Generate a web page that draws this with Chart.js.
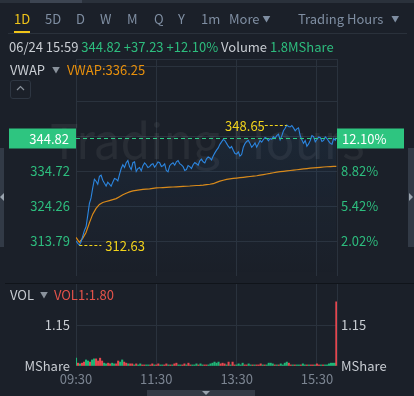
<!DOCTYPE html>
<html><head><meta charset="utf-8">
<script src="https://cdn.jsdelivr.net/npm/chart.js@4.4.1/dist/chart.umd.min.js"></script>
<style>
html,body{margin:0;padding:0;background:#1b2029;width:414px;height:396px;overflow:hidden;font-family:"Noto Sans CJK SC","Noto Sans",sans-serif;}
.abs{position:absolute;white-space:nowrap;line-height:1;font-size:13px;}
canvas{position:absolute;left:0;top:0;}
.g{color:#2dbd7e}.w{color:#c9cdd3}.t{color:#7f8ea2}
</style></head><body>
<canvas id="pc" width="414" height="290"></canvas>
<canvas id="vc" width="414" height="396"></canvas>

<div class="abs" style="left:0;top:0;width:414px;height:3px;background:#2a313b"></div>
<div class="abs" style="left:30px;top:0;width:52px;height:3px;background:#3d4552"></div>

<div class="abs" style="left:14px;top:12px;color:#f0c419">1D</div>
<div class="abs t" style="left:45px;top:12px">5D</div>
<div class="abs t" style="left:76px;top:12px">D</div>
<div class="abs t" style="left:100px;top:12px">W</div>
<div class="abs t" style="left:127px;top:12px">M</div>
<div class="abs t" style="left:154px;top:12px">Q</div>
<div class="abs t" style="left:178px;top:12px">Y</div>
<div class="abs t" style="left:201px;top:12px">1m</div>
<div class="abs t" style="left:229px;top:12px">More <span style="font-size:8px;vertical-align:2px">▼</span></div>
<div class="abs t" style="left:298px;top:12px">Trading Hours <span style="font-size:8px;vertical-align:2px;margin-left:5px">▼</span></div>
<div class="abs" style="left:14px;top:31px;width:16px;height:2px;background:#f0c419"></div>
<div class="abs" style="left:8px;top:33px;width:399px;height:1px;background:#2a313b"></div>

<div class="abs" style="left:9px;top:40px"><span class="w">06/24 15:59</span> <span class="g">344.82 +37.23 +12.10%</span> <span class="w">Volume</span> <span class="g">1.8MShare</span></div>

<div class="abs" style="left:10px;top:63px"><span class="w">VWAP</span> <span style="color:#8a929c;font-size:8px;vertical-align:2px;margin:0 4px">▼</span> <span style="color:#e8900c">VWAP:336.25</span></div>
<div class="abs" style="left:10px;top:80px;width:19px;height:17px;border:1px solid #2e3642;border-radius:3px"></div>
<svg class="abs" style="left:16px;top:85px" width="9" height="6"><polyline points="1,5 4.5,1.5 8,5" fill="none" stroke="#8a929c" stroke-width="1.2"/></svg>

<div class="abs" style="left:0;top:148px;width:4px;height:99px;background:#323a46"></div>
<div class="abs" style="left:408px;top:148px;width:6px;height:99px;background:#323a46"></div>
<svg class="abs" style="left:409px;top:193px" width="5" height="8"><polygon points="0,0 4,4 0,8" fill="#9aa3ae"/></svg>
<svg class="abs" style="left:0px;top:193px" width="4" height="8"><polygon points="4,0 0,4 4,8" fill="#9aa3ae"/></svg>

<div class="abs" style="left:5px;top:283px;width:409px;height:1px;background:#10141a"></div>

<div class="abs" style="left:10px;top:288px"><span class="w">VOL</span> <span style="color:#8a929c;font-size:8px;vertical-align:2px;margin:0 3px">▼</span> <span style="color:#e5534b">VOL1:1.80</span></div>

<div class="abs" style="left:147px;top:390px;width:108px;height:6px;background:#333a45"></div>
<svg class="abs" style="left:202px;top:391px" width="8" height="5"><polygon points="0,0 8,0 4,4" fill="#9aa3ae"/></svg>

<script>
// ---- data ----
const prevClose = 307.59;
const lastPrice = 344.82;
const priceTimes = [0,2.5,5,7.5,10,12.5,15,17.5,20,22.5,25,27.5,30,32.5,35,37.5,40,42.5,45,47.5,50,52.5,55,57.5,60,62.5,65,67.5,70,72.5,75,77.5,80,82.5,85,87.5,90,92.5,95,97.5,100,102.5,105,107.5,110,112.5,115,117.5,120,122.5,125,127.5,130,132.5,135,137.5,140,142.5,145,147.5,150,152.5,155,157.5,160,162.5,165,167.5,170,172.5,175,177.5,180,182.5,185,187.5,190,192.5,195,197.5,200,202.5,205,207.5,210,212.5,215,217.5,220,222.5,225,227.5,230,232.5,235,237.5,240,242.5,245,247.5,250,252.5,255,257.5,260,262.5,265,267.5,270,272.5,275,277.5,280,282.5,285,287.5,290,292.5,295,297.5,300,302.5,305,307.5,310,312.5,315,317.5,320,322.5,325,327.5,330,332.5,335,337.5,340,342.5,345,347.5,350,352.5,355,357.5,360,362.5,365,367.5,370,372.5,375,377.5,380,382.5,385,387.5,389];
const priceValues = [313.9,313.2,312.63,313.6,315.24,317.0,318.15,321.5,325.1,326.8,329.78,332.4,331.81,330.9,333.27,333.6,332.1,331.2,330.36,331.5,330.94,330.3,331.52,332.6,332.4,331.9,333.85,335.6,336.75,335.9,337.34,338.0,336.17,335.3,337.34,337.6,334.72,335.6,335.88,334.9,336.46,337.3,336.75,335.9,336.17,336.8,337.05,336.0,336.75,337.6,337.34,336.2,336.46,337.0,335.01,334.6,336.46,337.0,337.34,336.6,337.63,338.0,337.05,336.7,336.17,335.0,335.3,336.5,336.17,335.6,336.75,337.4,337.05,336.6,337.92,338.4,337.63,337.3,338.5,339.1,338.79,338.2,339.37,340.3,341.12,341.8,342.86,343.6,344.31,344.0,343.15,342.3,341.7,342.2,341.12,340.1,339.95,340.6,339.37,339.8,341.99,343.1,343.73,344.1,343.15,342.0,342.57,343.3,341.99,343.0,344.02,343.5,344.31,344.9,344.6,343.9,344.6,344.4,345.19,344.6,345.48,345.9,344.2,345.4,346.93,347.7,348.65,348.2,348.09,348.5,347.8,346.9,347.51,347.8,345.48,344.2,343.15,344.0,342.28,343.0,344.02,345.5,345.19,343.6,344.31,345.0,344.89,343.7,344.02,345.1,344.6,343.8,343.15,342.9,344.6,344.1,344.82];
const vwapTimes = [0,5,10,15,20,25,30,35,40,45,50,55,60,65,70,75,80,85,90,95,100,105,110,115,120,125,130,135,140,145,150,155,160,165,170,175,180,185,190,195,200,205,210,215,220,225,230,235,240,245,250,255,260,265,270,275,280,285,290,295,300,305,310,315,320,325,330,335,340,345,350,355,360,365,370,375,380,385,389];
const vwapValues = [314.95,313.5,314.66,316.41,319.31,321.93,323.67,324.84,325.42,325.71,326.0,326.29,326.58,327.16,327.74,328.18,328.62,328.91,329.05,329.2,329.34,329.43,329.49,329.63,329.78,329.84,329.9,329.96,330.01,330.07,330.13,330.19,330.24,330.3,330.36,330.45,330.51,330.56,330.65,330.77,330.89,331.06,331.47,331.81,332.1,332.34,332.51,332.63,332.74,332.86,332.98,333.09,333.21,333.33,333.44,333.62,333.79,333.97,334.14,334.34,334.52,334.66,334.78,334.9,335.01,335.13,335.24,335.36,335.48,335.59,335.71,335.8,335.88,335.97,336.06,336.14,336.2,336.23,336.25];
const priceTicks = [313.79,324.26,334.72,345.19,355.65,366.12];
const priceMin = 303.32, priceMax = 368.45;
const timeTicks = [0,120,240,360,390];
const timeLabels = ['09:30','11:30','13:30','15:30',''];
const volTimes = [0,3,6,9,12,15,18,21,24,27,30,33,36,39,42,45,48,51,54,57,60,63,66,69,72,75,78,81,84,87,90,93,96,99,102,105,108,111,114,117,120,123,126,129,132,135,138,141,144,147,150,153,156,159,162,165,168,171,174,177,180,183,186,189,192,195,198,201,204,207,210,213,216,219,222,225,228,231,234,237,240,243,246,249,252,255,258,261,264,267,270,273,276,279,282,285,288,291,294,297,300,303,306,309,312,315,318,321,324,327,330,333,336,339,342,345,348,351,354,357,360,363,366,369,372,375,378,381,384,387,389];
const volValues = [0.22,0.08,0.06,0.08,0.11,0.17,0.14,0.11,0.17,0.2,0.2,0.14,0.22,0.14,0.08,0.06,0.08,0.06,0.08,0.06,0.06,0.14,0.11,0.17,0.11,0.08,0.06,0.06,0.06,0.03,0.06,0.03,0.06,0.03,0.03,0.03,0.03,0.03,0.06,0.03,0.03,0.06,0.03,0.03,0.03,0.06,0.03,0.03,0.03,0.06,0.08,0.03,0.03,0.03,0.06,0.03,0.08,0.03,0.03,0.03,0.06,0.03,0.06,0.03,0.03,0.03,0.03,0.06,0.08,0.11,0.08,0.11,0.06,0.08,0.06,0.03,0.11,0.03,0.11,0.03,0.03,0.06,0.03,0.08,0.03,0.03,0.06,0.03,0.03,0.03,0.03,0.03,0.06,0.03,0.03,0.03,0.08,0.08,0.06,0.03,0.03,0.03,0.06,0.03,0.08,0.11,0.08,0.03,0.03,0.03,0.03,0.03,0.03,0.06,0.03,0.03,0.03,0.03,0.03,0.03,0.06,0.03,0.03,0.03,0.03,0.03,0.06,0.08,0.08,0.08,1.80];
const volUp = [1,0,1,0,0,1,1,0,1,1,0,0,0,0,1,1,0,0,1,1,0,0,1,1,0,0,1,0,0,1,0,1,1,0,0,1,1,0,0,1,0,0,1,1,0,0,1,0,1,0,0,1,1,0,0,1,0,0,1,1,1,0,1,1,0,0,1,1,1,1,1,1,0,0,0,1,0,1,0,0,1,1,1,1,0,0,1,1,0,1,0,0,0,1,0,1,1,1,1,0,1,0,1,1,1,1,0,0,1,0,1,1,0,1,1,0,1,0,0,1,0,0,1,0,1,1,1,1,1,1,0];
const volTicks = [0,1.15,2.30];

const FONT = '"Noto Sans CJK SC","Noto Sans",sans-serif';
const GRID = '#2a323d';
const GREEN = '#2dbd7e';
const YELLOW = '#f2d31b';
Chart.defaults.font.family = FONT;
Chart.defaults.font.size = 13;

const pricePlugin = {
  id:'priceDeco',
  beforeDatasetsDraw(chart){
    const c = chart.ctx, a = chart.chartArea;
    c.save();
    c.font = '48px ' + FONT;
    c.fillStyle = 'rgba(255,255,255,0.06)';
    c.textBaseline = 'alphabetic';
    c.fillText('Trading Hours', 50, 159);
    c.strokeStyle = GRID; c.lineWidth = 1;
    c.beginPath(); c.moveTo(a.left, a.top+0.5); c.lineTo(a.right, a.top+0.5); c.stroke();
    c.restore();
  },
  afterDatasetsDraw(chart){
    const c = chart.ctx, a = chart.chartArea;
    const xs = chart.scales.x, ys = chart.scales.y;
    c.save();
    const yl = Math.round(ys.getPixelForValue(lastPrice)) + 0.5;
    c.strokeStyle = '#2ecc85'; c.lineWidth = 1; c.setLineDash([4,3]);
    c.beginPath(); c.moveTo(a.left, yl); c.lineTo(a.right, yl); c.stroke();
    c.setLineDash([]);
    c.fillStyle = '#2ec580';
    c.fillRect(9, yl-10, a.left-9, 20);
    c.fillRect(a.right, yl-10, 404-a.right, 20);
    c.fillStyle = '#ffffff'; c.font = '13px ' + FONT; c.textBaseline = 'middle';
    c.textAlign = 'right'; c.fillText(lastPrice.toFixed(2), a.left-7, yl+0.5);
    c.textAlign = 'left'; c.fillText(((lastPrice/prevClose-1)*100).toFixed(2)+'%', a.right+5, yl+0.5);
    let mi = 0, ma = 0;
    priceValues.forEach((v,i)=>{ if(v<priceValues[mi]) mi=i; if(v>priceValues[ma]) ma=i; });
    c.strokeStyle = YELLOW; c.fillStyle = YELLOW; c.setLineDash([3,2]);
    const mx = xs.getPixelForValue(priceTimes[ma]), my = Math.round(ys.getPixelForValue(priceValues[ma]))+0.5;
    c.beginPath(); c.moveTo(mx-22, my); c.lineTo(mx, my); c.stroke();
    c.textAlign = 'right'; c.fillText(priceValues[ma].toFixed(2), mx-22, my+0.5);
    const nx = xs.getPixelForValue(priceTimes[mi]), ny = Math.round(ys.getPixelForValue(priceValues[mi]))+0.5;
    c.beginPath(); c.moveTo(nx, ny); c.lineTo(nx+22, ny); c.stroke();
    c.textAlign = 'left'; c.fillText(priceValues[mi].toFixed(2), nx+26, ny+0.5);
    c.restore();
  }
};

const tickSetter = arr => (axis => { axis.ticks = arr.map(v=>({value:v})); });

new Chart(document.getElementById('pc'), {
  type:'line',
  data:{datasets:[
    {data: priceTimes.map((t,i)=>({x:t,y:priceValues[i]})), borderColor:'#2c86e0', borderWidth:1.1, pointRadius:0, tension:0,
     fill:'start', backgroundColor:(ctx)=>{const ch=ctx.chart, ar=ch.chartArea; if(!ar) return 'transparent';
       const g=ch.ctx.createLinearGradient(0,ar.top,0,ar.bottom); g.addColorStop(0,'rgba(44,134,224,0.10)'); g.addColorStop(1,'rgba(44,134,224,0.0)'); return g;}},
    {data: vwapTimes.map((t,i)=>({x:t,y:vwapValues[i]})), borderColor:'#e08a12', borderWidth:1.2, pointRadius:0, tension:0, fill:false}
  ]},
  options:{
    responsive:false, animation:false, devicePixelRatio:1, events:[],
    layout:{padding:{top:59,bottom:7,left:0,right:0}},
    plugins:{legend:{display:false},tooltip:{enabled:false}},
    scales:{
      x:{type:'linear',min:0,max:390, afterBuildTicks:tickSetter(timeTicks), ticks:{display:false},
         grid:{color:GRID, drawTicks:false}, border:{display:false}, afterFit:a=>{a.height=0;}},
      y:{position:'left', min:priceMin, max:priceMax, afterBuildTicks:tickSetter(priceTicks),
         ticks:{color:GREEN, padding:6, callback:(v,i)=> i<3 ? Number(v).toFixed(2) : ''},
         grid:{color:GRID, drawTicks:false}, border:{display:false}, afterFit:a=>{a.width=76;}},
      y2:{position:'right', min:priceMin, max:priceMax, afterBuildTicks:tickSetter(priceTicks),
         ticks:{color:GREEN, padding:4, callback:(v,i)=> i<3 ? ((v/prevClose-1)*100).toFixed(2)+'%' : ''},
         grid:{display:false, drawTicks:false}, border:{display:false}, afterFit:a=>{a.width=77;}}
    }
  },
  plugins:[pricePlugin]
});

new Chart(document.getElementById('vc'), {
  type:'bar',
  data:{datasets:[{data: volTimes.map((t,i)=>({x:t,y:volValues[i]})), backgroundColor: volUp.map(u=>u?'#1fb677':'#e5474f'),
    barThickness:1.4, borderWidth:0, minBarLength:1}]},
  options:{
    responsive:false, animation:false, devicePixelRatio:1, events:[],
    layout:{padding:{top:284,bottom:0,left:0,right:0}},
    plugins:{legend:{display:false},tooltip:{enabled:false}},
    scales:{
      x:{type:'linear',min:0,max:390, offset:false, afterBuildTicks:tickSetter(timeTicks),
         ticks:{color:'#7b8491', padding:5, maxRotation:0, autoSkip:false, callback:(v,i)=>timeLabels[i]},
         grid:{color:GRID, drawTicks:false, offset:false}, border:{display:false}, afterFit:a=>{a.height=30;}},
      y:{position:'left', min:0, max:2.30, afterBuildTicks:tickSetter(volTicks),
         ticks:{color:'#c9cdd3', padding:6, callback:(v,i)=> i===0?'MShare':(i===1?'1.15':'')},
         grid:{color:(ctx)=> ctx.index===1 ? GRID : 'rgba(0,0,0,0)', drawTicks:false}, border:{display:false}, afterFit:a=>{a.width=76;}},
      y2:{position:'right', min:0, max:2.30, afterBuildTicks:tickSetter(volTicks),
         ticks:{color:'#c9cdd3', padding:4, callback:(v,i)=> i===0?'MShare':(i===1?'1.15':'')},
         grid:{display:false, drawTicks:false}, border:{display:false}, afterFit:a=>{a.width=77;}}
    }
  }
});
</script>
</body></html>
